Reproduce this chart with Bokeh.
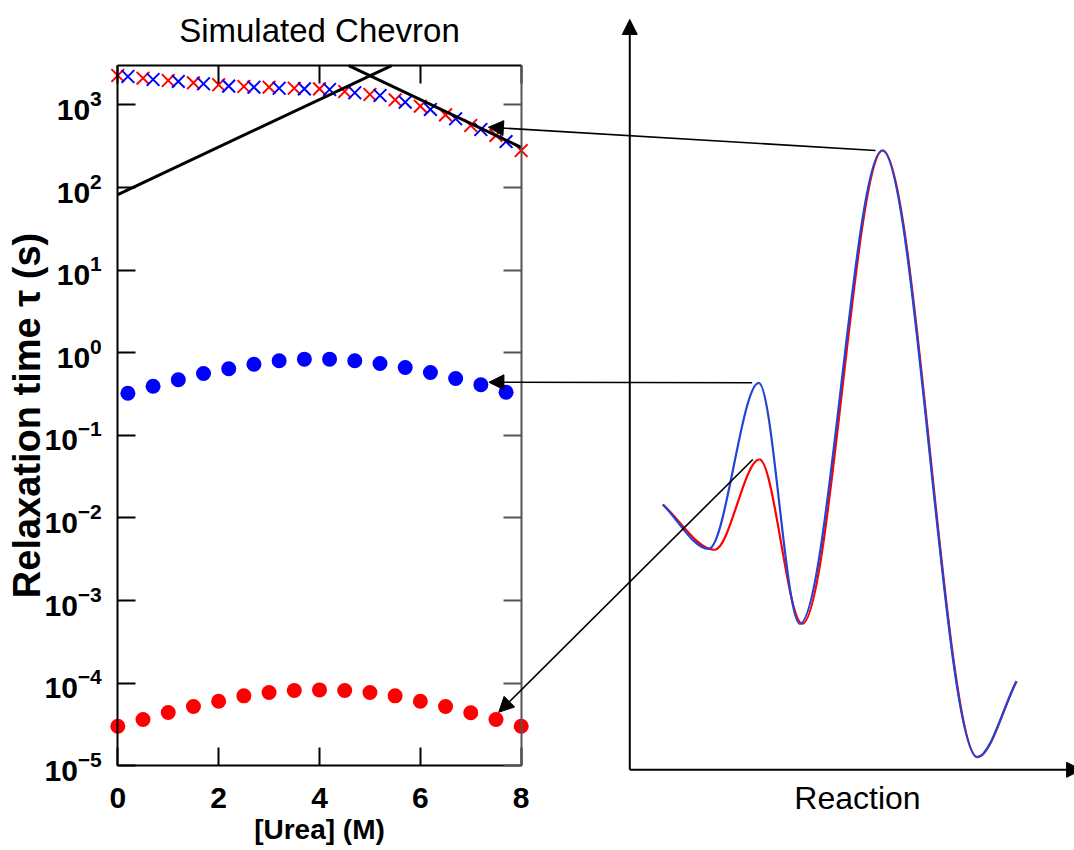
from bokeh.plotting import figure
from bokeh.models import (Range1d, LinearScale, LogAxis, LinearAxis, FixedTicker,
                          Arrow, NormalHead, Label)
from bokeh.embed import file_html
from bokeh.resources import INLINE

# ---------------- data: simulated chevron (left panel) ----------------
urea_red = [0.0, 0.5, 1.0, 1.5, 2.0, 2.5, 3.0, 3.5, 4.0, 4.5, 5.0, 5.5, 6.0, 6.5, 7.0, 7.5, 8.0]
urea_blue = [0.2, 0.7, 1.2, 1.7, 2.2, 2.7, 3.2, 3.7, 4.2, 4.7, 5.2, 5.7, 6.2, 6.7, 7.2, 7.7]

tau_slow_red = [2275, 2110, 1980, 1857, 1757, 1676, 1642, 1596, 1570, 1456, 1339,
                1156, 967, 760, 565, 428, 281]
tau_slow_blue = [2213, 2037, 1927, 1807, 1691, 1642, 1596, 1570, 1540, 1406, 1303,
                 1081, 883, 681, 505, 361]

tau_fast_blue = [0.324, 0.394, 0.471, 0.562, 0.640, 0.728, 0.800, 0.838, 0.838, 0.800,
                 0.743, 0.664, 0.578, 0.489, 0.410, 0.333]
tau_fast_red = [3.01e-5, 3.63e-5, 4.42e-5, 5.22e-5, 6.05e-5, 7.03e-5, 7.71e-5, 8.15e-5,
                8.30e-5, 8.15e-5, 7.71e-5, 7.03e-5, 6.05e-5, 5.22e-5, 4.39e-5, 3.63e-5, 3.01e-5]

# chevron arms (visible parts inside the box)
fold_arm_urea = [0.0, 5.43]
fold_arm_tau = [82.4, 3000.0]
unfold_arm_urea = [4.58, 8.0]
unfold_arm_tau = [3000.0, 307.0]

y_ticks = [1e-5, 1e-4, 1e-3, 1e-2, 1e-1, 1.0, 10.0, 100.0, 1000.0]
x_ticks = [0, 2, 4, 6, 8]

# ---------------- data: free-energy profiles (right panel) ----------------
# extrema of the schematic profiles (reaction coordinate, free energy)
xi_blue = [7.42, 17.76, 29.01, 38.23, 56.76, 78.12, 86.96]
G_blue = [35.36, 29.45, 51.58, 19.46, 82.54, 1.68, 11.81]
xi_red = [7.42, 19.05, 29.17, 38.77, 56.90, 78.20, 86.96]
G_red = [35.36, 29.32, 41.36, 19.46, 82.54, 1.68, 11.81]

# ---------------- layout ----------------
W, H = 1074, 850
XR = (-2.3262, 18.973)          # urea units across the whole canvas
LOGR = (-6.0255, 4.2651)        # log10(tau) across the whole canvas
RX = (-141.5, 100.0)            # reaction coordinate across the whole canvas
RY = (-10.756, 102.53)          # free energy across the whole canvas
BOX_TOP = 3000.0
BOX_BOTTOM = 1e-5

p = figure(width=W, height=H, y_axis_type="log",
           x_range=Range1d(*XR), y_range=Range1d(10 ** LOGR[0], 10 ** LOGR[1]),
           x_axis_location=None, y_axis_location=None,
           toolbar_location=None, output_backend="svg", title=None,
           min_border=0, min_border_left=0, min_border_right=0,
           min_border_top=0, min_border_bottom=0)
p.outline_line_color = None
p.grid.visible = False
p.background_fill_color = "white"
p.border_fill_color = "white"
p.extra_x_ranges = {"rx": Range1d(*RX)}
p.extra_y_ranges = {"ry": Range1d(*RY)}
p.extra_x_scales = {"rx": LinearScale()}
p.extra_y_scales = {"ry": LinearScale()}

FONT = "Liberation Sans"


def style_axis(ax, show_labels, color="black", size="30px"):
    ax.axis_line_color = color
    ax.axis_line_width = 2
    ax.major_tick_line_color = color
    ax.major_tick_line_width = 2
    ax.major_tick_in = 18
    ax.major_tick_out = 0
    ax.minor_tick_line_color = None
    ax.major_label_text_font = FONT
    ax.major_label_text_font_style = "bold"
    ax.major_label_text_font_size = size
    ax.major_label_text_color = "black" if show_labels else None
    ax.axis_label_text_color = "black"


# left (labelled) log axis
yl = LogAxis(fixed_location=0, bounds=(BOX_BOTTOM, BOX_TOP),
             ticker=FixedTicker(ticks=y_ticks, minor_ticks=[]),
             axis_label="Relaxation time τ (s)")
style_axis(yl, True, size="30px")
yl.major_label_standoff = 16
yl.axis_label_text_font = FONT
yl.axis_label_text_font_style = "bold"
yl.axis_label_text_font_size = "38px"
yl.axis_label_standoff = -7
p.add_layout(yl, "left")

# right mirror axis
yr = LogAxis(fixed_location=8, bounds=(BOX_BOTTOM, BOX_TOP),
             ticker=FixedTicker(ticks=y_ticks, minor_ticks=[]))
style_axis(yr, False, "#555555")
p.add_layout(yr, "right")

# bottom axis
xb = LinearAxis(fixed_location=BOX_BOTTOM, bounds=(0, 8),
                ticker=FixedTicker(ticks=x_ticks, minor_ticks=[]),
                axis_label="[Urea] (M)")
style_axis(xb, True, size="30px")
xb.major_label_standoff = 22
xb.axis_label_text_font = FONT
xb.axis_label_text_font_style = "bold"
xb.axis_label_text_font_size = "28px"
xb.axis_label_standoff = 3
p.add_layout(xb, "below")

# top mirror axis
xt = LinearAxis(fixed_location=BOX_TOP, bounds=(0, 8),
                ticker=FixedTicker(ticks=x_ticks, minor_ticks=[]))
style_axis(xt, False)
p.add_layout(xt, "above")

# ---- chevron data ----
p.scatter(urea_red, tau_slow_red, marker="x", size=18, line_color="#ff0000", line_width=2)
p.scatter(urea_blue, tau_slow_blue, marker="x", size=18, line_color="#0000ff", line_width=2)
p.line(fold_arm_urea, fold_arm_tau, line_color="black", line_width=3)
p.line(unfold_arm_urea, unfold_arm_tau, line_color="black", line_width=3)
p.scatter(urea_blue, tau_fast_blue, marker="circle", size=15, fill_color="#0000ff", line_color=None)
p.scatter(urea_red, tau_fast_red, marker="circle", size=15, fill_color="#ff0000", line_color=None)

p.add_layout(Label(x=4, y=8000, text="Simulated Chevron", text_align="center",
                   text_baseline="middle", text_font=FONT, text_font_size="33px",
                   text_color="black"))


# ---- energy profiles as piecewise cubic Bezier curves ----
def bezier_pieces(xs, gs, a=1 / 3):
    out = {k: [] for k in ("x0", "y0", "x1", "y1", "cx0", "cy0", "cx1", "cy1")}
    n = len(xs)
    for i in range(n - 1):
        dx = xs[i + 1] - xs[i]
        dg = gs[i + 1] - gs[i]
        out["x0"].append(xs[i]); out["y0"].append(gs[i])
        out["x1"].append(xs[i + 1]); out["y1"].append(gs[i + 1])
        out["cx0"].append(xs[i] + a * dx)
        out["cy0"].append(gs[i] + (a * dg if i == 0 else 0.0))
        out["cx1"].append(xs[i + 1] - a * dx)
        out["cy1"].append(gs[i + 1] - (a * dg if i + 1 == n - 1 else 0.0))
    return out


for xs, gs, col in ((xi_red, G_red, "#ff0000"), (xi_blue, G_blue, "#2044d4")):
    b = bezier_pieces(xs, gs)
    p.bezier(x0=b["x0"], y0=b["y0"], x1=b["x1"], y1=b["y1"],
             cx0=b["cx0"], cy0=b["cy0"], cx1=b["cx1"], cy1=b["cy1"],
             line_color=col, line_width=2.2, x_range_name="rx", y_range_name="ry")

# energy diagram axes
p.add_layout(Arrow(x_start=0, y_start=0, x_end=0, y_end=100, x_range_name="rx", y_range_name="ry",
                   line_color="black", line_width=2,
                   end=NormalHead(size=15, fill_color="black", line_color="black", line_width=1)))
p.add_layout(Arrow(x_start=0, y_start=0, x_end=101.6, y_end=0, x_range_name="rx", y_range_name="ry",
                   line_color="black", line_width=2,
                   end=NormalHead(size=15, fill_color="black", line_color="black", line_width=1)))
p.add_layout(Label(x=51.2, y=-3.7, x_range_name="rx", y_range_name="ry", text="Reaction",
                   text_align="center", text_baseline="middle", text_font=FONT,
                   text_font_size="32px", text_color="black"))


# ---- connectors: barrier tops -> relaxation times ----
def energy_to_main(xi, g):
    fx = (xi - RX[0]) / (RX[1] - RX[0])
    fy = (g - RY[0]) / (RY[1] - RY[0])
    return XR[0] + fx * (XR[1] - XR[0]), 10 ** (LOGR[0] + fy * (LOGR[1] - LOGR[0]))


GAP = 1.5
connectors = [
    ((xi_blue[4] - GAP, G_blue[4]), (7.35, 538.0)),
    ((xi_blue[2] - GAP, G_blue[2]), (7.36, 0.44)),
    ((xi_red[2] - GAP, G_red[2]), (7.555, 4.45e-5)),
]
for (xi, g), (ux, ut) in connectors:
    sx, sy = energy_to_main(xi, g)
    p.add_layout(Arrow(x_start=sx, y_start=sy, x_end=ux, y_end=ut,
                       line_color="black", line_width=1.6,
                       end=NormalHead(size=15, fill_color="black", line_color="black", line_width=1)))

with open("out.html", "w", encoding="utf-8") as f:
    f.write(file_html(p, INLINE))
